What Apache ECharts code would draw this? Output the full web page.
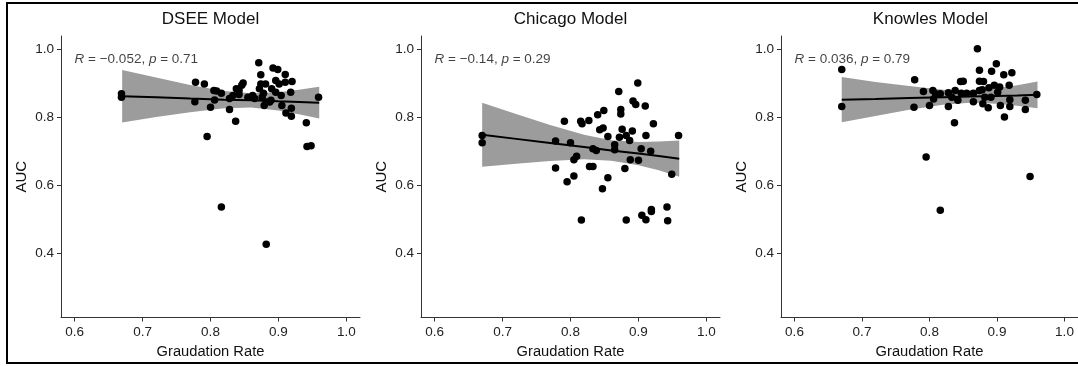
<!DOCTYPE html>
<html>
<head>
<meta charset="utf-8">
<script src="https://cdn.jsdelivr.net/npm/echarts@6/dist/echarts.min.js"></script>
<style>
  html, body { margin: 0; padding: 0; background: #fff; }
  #chart { width: 1078px; height: 366px; }
</style>
</head>
<body>
<div id="chart"></div>
<script>
// Panel titles and correlation labels
const panelTitles = ['DSEE Model', 'Chicago Model', 'Knowles Model'];
const corrR = ['\u22120.052', '\u22120.14', '0.036'];
const corrP = ['0.71', '0.29', '0.79'];

// Axis ticks
const xTicks = [0.6, 0.7, 0.8, 0.9, 1.0];
const yTicks = [0.4, 0.6, 0.8, 1.0];

// School points: [graduation rate, AUC]
const dseePoints = [
  [0.669,0.868],[0.669,0.858],[0.778,0.902],[0.791,0.897],[0.777,0.845],[0.795,0.743],[0.800,0.829],
  [0.805,0.878],[0.809,0.876],[0.816,0.870],[0.806,0.850],[0.828,0.822],[0.828,0.854],[0.837,0.788],
  [0.833,0.863],[0.838,0.883],[0.842,0.878],[0.846,0.893],[0.848,0.900],[0.842,0.866],[0.855,0.858],
  [0.862,0.863],[0.865,0.854],[0.871,0.959],[0.874,0.924],[0.874,0.897],[0.872,0.883],[0.876,0.858],
  [0.879,0.834],[0.881,0.897],[0.882,0.844],[0.887,0.844],[0.889,0.849],[0.890,0.883],[0.892,0.944],
  [0.899,0.939],[0.896,0.907],[0.901,0.897],[0.904,0.863],[0.905,0.834],[0.910,0.925],[0.910,0.902],
  [0.918,0.873],[0.920,0.904],[0.911,0.812],[0.919,0.826],[0.919,0.802],[0.941,0.783],[0.942,0.714],
  [0.948,0.716],[0.959,0.858],[0.816,0.536],[0.882,0.427],[0.878,0.870],[0.896,0.873]
];
const chicagoPoints = [
  [0.670,0.746],[0.670,0.725],[0.778,0.730],[0.791,0.788],[0.800,0.725],[0.778,0.651],[0.805,0.675],
  [0.809,0.685],[0.805,0.627],[0.795,0.610],[0.815,0.788],[0.817,0.780],[0.827,0.790],[0.828,0.655],
  [0.833,0.655],[0.833,0.707],[0.838,0.702],[0.840,0.807],[0.849,0.819],[0.843,0.763],[0.848,0.768],
  [0.855,0.743],[0.855,0.622],[0.865,0.719],[0.865,0.704],[0.871,0.875],[0.874,0.822],[0.874,0.809],
  [0.876,0.764],[0.872,0.741],[0.880,0.649],[0.882,0.746],[0.887,0.731],[0.888,0.675],[0.891,0.759],
  [0.892,0.847],[0.896,0.837],[0.899,0.900],[0.900,0.673],[0.904,0.707],[0.910,0.832],[0.911,0.746],
  [0.918,0.700],[0.922,0.780],[0.949,0.632],[0.959,0.746],[0.847,0.590],[0.816,0.498],[0.882,0.498],
  [0.905,0.512],[0.911,0.499],[0.919,0.529],[0.919,0.523],[0.942,0.536],[0.943,0.496]
];
const knowlesPoints = [
  [0.670,0.939],[0.670,0.831],[0.778,0.909],[0.777,0.829],[0.791,0.875],[0.800,0.834],[0.795,0.683],
  [0.805,0.878],[0.809,0.868],[0.806,0.853],[0.816,0.868],[0.828,0.831],[0.828,0.871],[0.837,0.783],
  [0.833,0.858],[0.838,0.878],[0.842,0.849],[0.846,0.904],[0.850,0.905],[0.847,0.870],[0.855,0.870],
  [0.865,0.845],[0.865,0.870],[0.871,1.000],[0.874,0.937],[0.874,0.905],[0.874,0.878],[0.878,0.880],
  [0.880,0.904],[0.879,0.839],[0.882,0.858],[0.887,0.827],[0.888,0.886],[0.892,0.934],[0.891,0.858],
  [0.896,0.893],[0.899,0.956],[0.901,0.873],[0.904,0.888],[0.905,0.834],[0.910,0.924],[0.911,0.800],
  [0.918,0.893],[0.919,0.851],[0.919,0.831],[0.922,0.930],[0.942,0.849],[0.942,0.822],[0.959,0.866],
  [0.949,0.626],[0.816,0.527]
];

// Linear fit and 95% confidence band, sampled along graduation rate
const fitX = [0.67, 0.72, 0.77, 0.82, 0.86, 0.90, 0.93, 0.96];
const dseeFit     = [0.861, 0.858, 0.854, 0.851, 0.849, 0.846, 0.844, 0.842];
const dseeLower   = [0.784, 0.800, 0.814, 0.826, 0.828, 0.819, 0.808, 0.796];
const dseeUpper   = [0.938, 0.916, 0.894, 0.876, 0.870, 0.873, 0.880, 0.889];
const chicagoFit   = [0.748, 0.736, 0.724, 0.712, 0.702, 0.693, 0.686, 0.678];
const chicagoLower = [0.654, 0.663, 0.671, 0.676, 0.672, 0.659, 0.644, 0.625];
const chicagoUpper = [0.842, 0.809, 0.777, 0.748, 0.732, 0.727, 0.728, 0.731];
const knowlesFit   = [0.851, 0.853, 0.856, 0.858, 0.860, 0.862, 0.863, 0.865];
const knowlesLower = [0.785, 0.803, 0.821, 0.836, 0.842, 0.839, 0.833, 0.826];
const knowlesUpper = [0.917, 0.903, 0.891, 0.880, 0.878, 0.885, 0.893, 0.904];

const panels = [
  { points: dseePoints, fit: dseeFit, lower: dseeLower, upper: dseeUpper },
  { points: chicagoPoints, fit: chicagoFit, lower: chicagoLower, upper: chicagoUpper },
  { points: knowlesPoints, fit: knowlesFit, lower: knowlesLower, upper: knowlesUpper }
];

const FONT = '"Liberation Sans", Arial, Helvetica, sans-serif';
const PANEL_STEP = 360, PLOT_LEFT = 61, PLOT_TOP = 36, PLOT_W = 299, PLOT_H = 281.5;

const grids = [], xAxes = [], yAxes = [], series = [], graphics = [];

panels.forEach((p, i) => {
  const left = PLOT_LEFT + PANEL_STEP * i;
  grids.push({ left: left, top: PLOT_TOP, width: PLOT_W, height: PLOT_H, containLabel: false });

  xAxes.push({
    type: 'value', gridIndex: i, min: 0.58, max: 1.02,
    name: 'Graudation Rate', nameLocation: 'middle', nameGap: 20,
    nameTextStyle: { fontFamily: FONT, fontSize: 14.7, color: '#111', verticalAlign: 'top' },
    axisLine: { show: true, onZero: false, lineStyle: { color: '#333', width: 1 } },
    axisTick: { show: true, length: 4, customValues: xTicks, lineStyle: { color: '#333' } },
    axisLabel: { customValues: xTicks, margin: 8, fontFamily: FONT, fontSize: 13.5, color: '#222',
                 formatter: v => v.toFixed(1) },
    splitLine: { show: false }
  });
  yAxes.push({
    type: 'value', gridIndex: i, min: 0.2125, max: 1.0375,
    name: 'AUC', nameLocation: 'middle', nameGap: 32,
    nameTextStyle: { fontFamily: FONT, fontSize: 15, color: '#111' },
    axisLine: { show: true, onZero: false, lineStyle: { color: '#333', width: 1 } },
    axisTick: { show: true, length: 4, customValues: yTicks, lineStyle: { color: '#333' } },
    axisLabel: { customValues: yTicks, margin: 7, fontFamily: FONT, fontSize: 13.5, color: '#222',
                 formatter: v => v.toFixed(1) },
    splitLine: { show: false }
  });

  // confidence band
  series.push({
    type: 'custom', xAxisIndex: i, yAxisIndex: i, silent: true, z: 1,
    data: fitX.map((x, k) => [x, p.lower[k], p.upper[k]]),
    encode: { x: 0, y: [1, 2] },
    renderItem: function (params, api) {
      if (params.dataIndex !== 0) return null;
      const pts = [];
      for (let k = 0; k < fitX.length; k++) pts.push(api.coord([fitX[k], p.upper[k]]));
      for (let k = fitX.length - 1; k >= 0; k--) pts.push(api.coord([fitX[k], p.lower[k]]));
      return { type: 'polygon', shape: { points: pts }, style: { fill: '#9c9c9c', stroke: null } };
    }
  });
  // fitted line
  series.push({
    type: 'line', xAxisIndex: i, yAxisIndex: i, silent: true, z: 2,
    data: fitX.map((x, k) => [x, p.fit[k]]),
    showSymbol: false, symbol: 'none',
    lineStyle: { color: '#000', width: 2 }
  });
  // school points
  series.push({
    type: 'scatter', xAxisIndex: i, yAxisIndex: i, z: 3,
    data: p.points, symbol: 'circle', symbolSize: 7.5,
    itemStyle: { color: '#000', opacity: 1 }
  });
  // correlation label
  series.push({
    type: 'scatter', xAxisIndex: i, yAxisIndex: i, z: 4, silent: true,
    data: [[0.6, 0.968]], symbolSize: 0,
    label: {
      show: true, position: 'right', distance: 0,
      formatter: '{i|R} = ' + corrR[i] + ', {i|p} = ' + corrP[i],
      fontFamily: FONT, fontSize: 13.5, color: '#111',
      rich: { i: { fontStyle: 'italic', fontFamily: FONT, fontSize: 13.5, color: '#111' } }
    }
  });

  graphics.push({
    type: 'text', x: left + PLOT_W / 2, y: 19,
    style: { text: panelTitles[i], align: 'center', verticalAlign: 'middle',
             fontFamily: FONT, fontSize: 17, fill: '#111' }
  });
});

// outer frame
graphics.push({
  type: 'rect', shape: { x: 7, y: 3, width: 1090, height: 360 },
  style: { fill: null, stroke: '#000', lineWidth: 2 }, silent: true
});

const chart = echarts.init(document.getElementById('chart'), null, { renderer: 'canvas' });
chart.setOption({
  animation: false,
  backgroundColor: '#fff',
  grid: grids, xAxis: xAxes, yAxis: yAxes, series: series,
  graphic: { elements: graphics }
});
</script>
</body>
</html>
